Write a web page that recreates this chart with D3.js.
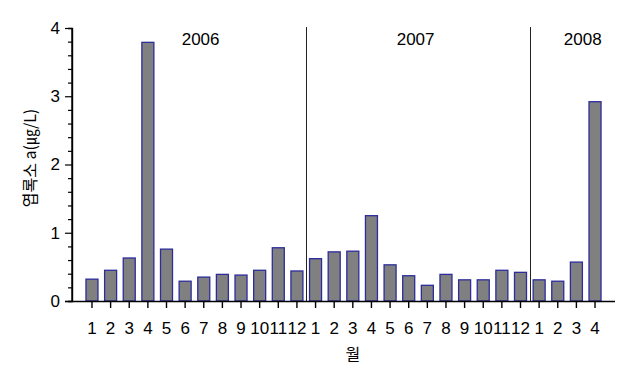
<!DOCTYPE html>
<html>
<head>
<meta charset="utf-8">
<script src="https://cdn.jsdelivr.net/npm/d3@7"></script>
<style>
  body { margin: 0; background: #fff; }
  text { font-family: Arial, "Liberation Sans", sans-serif; fill: #000; }
</style>
</head>
<body>
<div id="chart"></div>
<script>
// months and chlorophyll-a values, Jan 2006 .. Apr 2008
const months = [1,2,3,4,5,6,7,8,9,10,11,12, 1,2,3,4,5,6,7,8,9,10,11,12, 1,2,3,4]
const chlA = [0.32,0.45,0.63,3.79,0.76,0.29,0.35,0.39,0.38,0.45,0.78,0.44,
              0.62,0.72,0.73,1.25,0.53,0.37,0.23,0.39,0.31,0.31,0.45,0.42,
              0.31,0.29,0.57,2.92]
const years = ["2006", "2007", "2008"]
const yearStart = [0, 12, 24]        // index of first month of each year
const yearLabelAt = [5.83, 17.37, 26.34]  // label position, in bar-index units
const yTicks = [0, 1, 2, 3, 4]

let width = 637, height = 377
let margin = {top: 28, right: 22, bottom: 76, left: 72}
let plotW = width - margin.left - margin.right
let plotH = height - margin.top - margin.bottom

let svg = d3.select("#chart")
    .append("svg")
    .attr("width", width)
    .attr("height", height)
  .append("g")
    .attr("transform", "translate(" + margin.left + "," + margin.top + ")")

let idx = d3.range(chlA.length)
let x = d3.scaleBand()
    .domain(idx)
    .range([0, plotW])
    .paddingInner(0.356)
    .paddingOuter(0.75)

// continuous index -> bar centre
let xc = d3.scaleLinear()
    .domain([0, chlA.length - 1])
    .range([x(0) + x.bandwidth() / 2, x(chlA.length - 1) + x.bandwidth() / 2])

let y = d3.scaleLinear()
    .domain([0, 4])
    .range([plotH, 0])

// year separators
svg.selectAll(".sep")
  .data(yearStart.slice(1))
  .enter()
  .append("line")
    .attr("x1", d => Math.round(xc(d - 0.5)) + 0.5)
    .attr("x2", d => Math.round(xc(d - 0.5)) + 0.5)
    .attr("y1", y(4) - 1)
    .attr("y2", y(0))
    .attr("stroke", "#222")
    .attr("stroke-width", 1)

// year labels
svg.selectAll(".year")
  .data(years)
  .enter()
  .append("text")
    .attr("x", (d, i) => xc(yearLabelAt[i]))
    .attr("y", 17)
    .attr("text-anchor", "middle")
    .style("font-size", "17px")
    .text(d => d)

// bars
svg.selectAll(".bar")
  .data(chlA)
  .enter()
  .append("rect")
    .attr("x", (d, i) => x(i))
    .attr("y", d => y(d))
    .attr("width", x.bandwidth())
    .attr("height", d => plotH - y(d))
    .attr("fill", "#808080")
    .attr("stroke", "#2c2c9c")
    .attr("stroke-width", 1.3)

// y axis with minor ticks
let yAxis = svg.append("g")
    .call(d3.axisLeft(y).tickValues(yTicks).tickSize(7).tickFormat(d3.format("d")))
yAxis.append("g")
    .call(d3.axisLeft(y).tickValues(d3.range(0.2, 4, 0.2).filter(v => Math.abs(v - Math.round(v)) > 0.01)).tickSize(4).tickFormat(""))
yAxis.selectAll(".domain").attr("stroke", "#000").attr("stroke-width", 1.4)
yAxis.selectAll(".tick line").attr("stroke", "#000").attr("stroke-width", 1.2)
yAxis.selectAll("text").style("font-size", "17px").attr("dx", "-2px")
yAxis.select(".domain").attr("d", "M0," + (y(4)) + "V" + plotH)

// x axis
let xAxis = svg.append("g")
    .attr("transform", "translate(0," + plotH + ")")
    .call(d3.axisBottom(x).tickSize(7).tickSizeOuter(0).tickFormat(i => months[i]))
xAxis.select(".domain").attr("stroke", "#000").attr("stroke-width", 1.4)
  .attr("d", "M-7,0.5H" + plotW)
xAxis.selectAll(".tick line").attr("stroke", "#000").attr("stroke-width", 1.4)
xAxis.selectAll("text").style("font-size", "17px").attr("dy", "1.35em")

// axis titles
svg.append("text")
    .attr("x", xc(14.0))
    .attr("y", plotH + 59)
    .attr("text-anchor", "middle")
    .style("font-family", "'Noto Sans CJK KR', sans-serif")
    .style("font-size", "16px")
    .text("월")

svg.append("text")
    .attr("transform", "translate(" + (36 - margin.left) + "," + (158 - margin.top) + ") rotate(-90)")
    .attr("text-anchor", "middle")
    .style("font-family", "'Noto Sans CJK KR', sans-serif")
    .style("font-size", "16px")
    .text("엽록소 a(㎍/L)")
</script>
</body>
</html>
